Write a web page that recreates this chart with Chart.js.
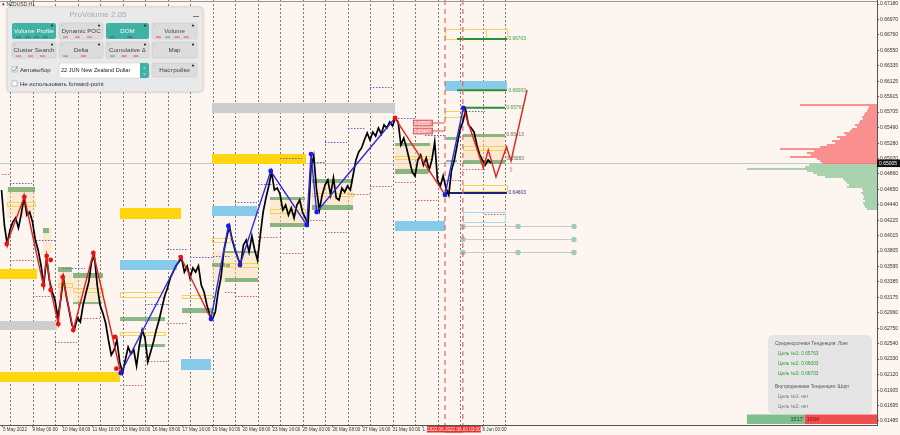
<!DOCTYPE html>
<html><head><meta charset="utf-8">
<script src="https://cdn.jsdelivr.net/npm/chart.js@4.4.1/dist/chart.umd.min.js"></script>
<style>html,body{margin:0;padding:0;background:#fdf5ef;overflow:hidden}canvas{display:block}</style>
</head><body>
<canvas id="c" width="900" height="435"></canvas>
<script>
// ---------------- DATA ----------------
const yTickValues = [0.67180,0.66970,0.66760,0.66550,0.66335,0.66125,0.65915,0.65705,0.65490,0.65280,0.65070,0.64860,0.64650,0.64440,0.64225,0.64015,0.63805,0.63595,0.63385,0.63175,0.62960,0.62750,0.62540,0.62330,0.62120,0.61905,0.61695,0.61485];
const xTickBars = [-7.5,24,56,88,120,152,184,216,248,280,312,344,376,408,440,472,504];
const xTickLabels = ['5 May 2022','9 May 00:00','10 May 08:00','11 May 16:00','13 May 00:00','16 May 08:00','17 May 16:00','19 May 00:00','20 May 08:00','23 May 16:00','25 May 00:00','26 May 08:00','27 May 16:00','31 May 00:00','1 Jun 08:00','2 Jun 16:00','6 Jun 00:00'];
const daySeparatorBars = [0,24,48,72,96,120,144,168,192,216,240,264,288,312,336,360,384,408,432,456,480,504,528];
const currentPrice = 0.65005;

// H1 closes, one value every 3 bars starting at bar -9
const priceStartBar = -9;
const priceStepBars = 3;
const closes = [0.64640,0.64162,0.63902,0.64093,0.64203,0.64257,0.64121,0.64311,0.64544,0.64298,
0.64339,0.64203,0.63957,0.63820,0.63616,0.63342,0.63711,0.63410,0.63247,0.63137,
0.62892,0.63137,0.63438,0.63192,0.63001,0.62796,0.62755,0.62892,0.62837,0.63069,
0.63233,0.63383,0.63657,0.63738,0.63342,0.63069,0.62960,0.62823,0.62591,0.62386,
0.62454,0.62591,0.62291,0.62140,0.62318,0.62495,0.62399,0.62454,0.62236,0.62523,
0.62727,0.62618,0.62291,0.62427,0.62564,0.62727,0.62864,0.63028,0.63192,0.63301,
0.63438,0.63520,0.63602,0.63657,0.63711,0.63520,0.63602,0.63438,0.63575,0.63520,
0.63602,0.63342,0.63247,0.63069,0.62933,0.62878,0.62974,0.63247,0.63438,0.63793,
0.63984,0.64148,0.63957,0.63820,0.63711,0.63616,0.63889,0.63957,0.63793,0.64011,
0.63820,0.63684,0.64025,0.64339,0.64531,0.64694,0.64886,0.64640,0.64667,0.64585,
0.64366,0.64435,0.64298,0.64394,0.64257,0.64435,0.64503,0.64339,0.64257,0.64175,
0.64940,0.65104,0.64640,0.64366,0.64572,0.64708,0.64776,0.64572,0.64804,0.64531,
0.64503,0.64667,0.64613,0.64694,0.64640,0.64845,0.65049,0.65159,0.65214,0.65323,
0.65418,0.65323,0.65432,0.65377,0.65487,0.65404,0.65528,0.65487,0.65569,0.65514,
0.65623,0.65569,0.65255,0.65350,0.65214,0.65049,0.64886,0.64831,0.65049,0.65118,
0.64981,0.65077,0.64913,0.65049,0.65296,0.64776,0.64694,0.64831,0.64667,0.64572,
0.64913,0.65049,0.65255,0.65459,0.65569,0.65732,0.65528,0.65487,0.65432,0.65255,
0.65118,0.65049,0.64981,0.65049,0.65008];

// zigzag legs [bar, price]
const zzRedA = [[-3.5,0.63902],[15.25,0.64544],[35.5,0.63342],[39.1,0.63738],[43.4,0.63274],[51.5,0.62809],[56.2,0.63451],[67.5,0.62727],[88.9,0.63779],[118.1,0.62140]];
const zzBlueA = [[118.1,0.62140],[182.1,0.63724]];
const zzRedB = [[182.1,0.63724],[214.4,0.62878]];
const zzBlueB = [[214.4,0.62878],[232.9,0.64148],[245.3,0.63616],[278.1,0.64899],[316.5,0.64162],[321.1,0.65131],[327.1,0.64339],[410.7,0.65623]];
const zzRedC = [[410.7,0.65623],[464,0.64572]];
const zzBlueC = [[464,0.64572],[483.5,0.65760]];
const zzForecast = [[483.5,0.65760],[504.9,0.64940],[510.2,0.65186],[518.4,0.64817],[529.6,0.65227],[534.4,0.65036],[551.5,0.66006]];
const redPivots = [[-3.5,0.63902],[15.25,0.64544],[35.5,0.63342],[39.1,0.63738],[43.4,0.63684],[43.4,0.63274],[51.5,0.62809],[56.2,0.63451],[67.5,0.62727],[88.9,0.63779],[112.0,0.62632],[113.5,0.62200],[182.1,0.63724],[410.7,0.65623]];
const bluePivots = [[118.1,0.62140],[214.4,0.62878],[232.9,0.64148],[245.3,0.63616],[278.1,0.64899],[316.5,0.64162],[321.1,0.65131],[327.1,0.64339],[464,0.64572],[483.5,0.65760]];

// zones [fromBar, toBar, topPrice, bottomPrice]
const goldZones = [[-11,28.8,0.63561,0.63424],[-11,117.3,0.62154,0.62017],[117.3,182.4,0.64394,0.64243],[215.5,315.7,0.65131,0.64995]];
const blueZones = [[117.3,178.1,0.63684,0.63547],[215.5,263.5,0.64421,0.64284],[182.4,214.4,0.62331,0.62181],[410.7,464,0.64216,0.64079],[464,530.1,0.66129,0.65992]];
const grayZones = [[-11,50.1,0.62850,0.62727],[215.5,410.7,0.65828,0.65691]];
const beigeZones = [[-3.2,26.7,0.64681,0.64257],[35.2,44.8,0.64121,0.63779],[51.2,66.1,0.63588,0.63178],[67.2,99.2,0.63506,0.63096],[215.5,264.5,0.63806,0.63383],[277.3,314.7,0.64544,0.64134],[322.1,365.9,0.64790,0.64366],[410.7,450.1,0.65282,0.64858],[483.2,528,0.65404,0.64995]];
const greenZones = [[-2.1,26.7,0.64681,0.64612],[35.2,41.6,0.64121,0.64052],[51.2,66.1,0.63588,0.63520],[67.2,99.2,0.63506,0.63438],[67.2,98,0.63110,0.63082],[117.3,165.3,0.62905,0.62850],[138.7,165.3,0.62536,0.62495],[183.5,215.5,0.63028,0.62959],[215.5,234.7,0.63643,0.63588],[229.3,264.5,0.63806,0.63779],[229.3,264.5,0.63438,0.63383],[277.3,314.7,0.64544,0.64503],[277.3,314.7,0.64189,0.64134],[322.1,365.9,0.64790,0.64735],[322.1,365.9,0.64435,0.64366],[410.7,448,0.65282,0.65241],[410.7,445.9,0.64927,0.64858],[465.1,476.8,0.65364,0.65323],[465.1,476.8,0.65049,0.65022],[483.2,528,0.65404,0.65364],[483.2,528,0.65049,0.64995]];
const yellowBoxes = [[464,507.7,0.66839,0.66702],[507.7,530.1,0.66839,0.66702],[464,482.1,0.65719,0.65637],[483.2,530.1,0.65241,0.65186],[483.2,530.1,0.64708,0.64626],[410.7,450.1,0.65104,0.65063],[-3.2,26.7,0.64476,0.64421],[117.3,165.3,0.63247,0.63178],[117.3,165.3,0.62700,0.62659],[51.2,66.1,0.63369,0.63315],[67.2,99.2,0.63301,0.63247],[183.5,215.5,0.63205,0.63164],[215.5,234.7,0.63984,0.63929],[229.3,264.5,0.63643,0.63588],[277.3,314.7,0.64380,0.64325],[322.1,365.9,0.64599,0.64558]];
const lightBlueBoxes = [[483.2,528,0.64339,0.64202]];

// dotted segments [fromBar, toBar, price]
const dotBlue = [[0,23.5,0.64735],[24.5,48,0.63957],[56.5,80,0.63574],[144,168.5,0.63082],[167.5,189.9,0.63834],[192,216.5,0.63724],[216.5,234.7,0.63738],[240,263.5,0.64476],[264.5,285.9,0.64722],[288,311.5,0.65077],[321.1,336,0.65022],[336,359.5,0.65295],[360.5,378.7,0.65487],[384,407.5,0.66047],[410.7,432,0.65623],[442.7,464,0.65391],[483.2,506.7,0.65719]];
const dotRed = [[-8.5,0,0.64858],[0,23.5,0.63684],[24.5,48,0.63192],[48,71.5,0.62563],[72.5,96,0.62891],[117.3,141.9,0.61976],[144,167.5,0.62304],[167.5,189.9,0.62823],[229.3,240,0.63247],[240,263.5,0.63192],[264.5,285.9,0.63998],[288,311.5,0.63779],[316.8,336,0.64230],[336,359.5,0.64066],[360.5,384,0.64585],[384,407.5,0.64694],[410.7,432,0.64749],[432,455.5,0.64503],[465.1,480,0.64776],[483.2,506.7,0.64927],[506.7,528,0.64312]];

// target / level lines [fromBar, toBar, price, label, kind]
const levels = [[476.8,530.1,0.66703,'0.66703','target'],[476.8,530.1,0.66003,'0.66003','target'],[483.2,528,0.65763,'0.65763','target'],[483.2,528,0.65413,'0.65413','zone'],[483.2,528,0.65083,'0.65083','zone'],[464,530.1,0.64599,'0.64603','stop']];
const priceTags = [[0.65555,'0.65557'],[0.65446,'0.65447']];
const priceTagBar = 464;
const circleRowPrices = [0.64148,0.63970,0.63793];
const circleCols = [483.2,541.9,601.6];
const circleMask = [[1,1,1],[1,0,1],[1,1,1]];
const timeMarks = [[464,'2022.06.02 08:00'],[483,'2022.06.03 03:00']];

// volume profile: bins from top price downward
const vpTopPrice = 0.65814, vpBinSize = 0.000273;
const vpVolumes = [77,8,9,10,12,13,15,14,17,18,22,20,25,27,33,31,40,37,45,42,50,57,97,63,70,66,87,60,57,55,68,72,130,70,64,60,52,34,32,30,28,30,15,14,16,14,13,14,12,14,13,12,10];
const deltaBuy = 1517, deltaSell = 1894;

const infoLines = [['Среднесрочная Тенденция: Лонг','head'],['Цель №1: 0.65763','up'],['Цель №2: 0.66003','up'],['Цель №3: 0.66703','up'],['Внутридневная Тенденция: Шорт','head'],['Цель №1: нет','none'],['Цель №2: нет','none']];

// ---------------- RENDER ----------------
const CREAM = '#fdf5ef';
const FONT = "'Liberation Sans', Arial, sans-serif";
const toPts = arr => arr.map(([x,y]) => ({x, y}));
const pricePts = closes.map((p,i) => ({x: priceStartBar + i*priceStepBars, y: p}));

const bgPlugin = { id:'bg', beforeDraw(c){ const g=c.ctx; g.save(); g.fillStyle=CREAM; g.fillRect(0,0,c.width,c.height); g.restore(); } };

const scenePlugin = {
  id:'scene',
  beforeDatasetsDraw(c){
    const g=c.ctx, a=c.chartArea, x=c.scales.x, y=c.scales.y, xv=c.scales.xv;
    g.save();
    g.beginPath(); g.rect(a.left,a.top,a.right-a.left,a.bottom-a.top); g.clip();
    g.strokeStyle='#777'; g.lineWidth=1; g.setLineDash([2,2]);
    daySeparatorBars.forEach(b=>{const px=Math.round(x.getPixelForValue(b))+0.5; g.beginPath(); g.moveTo(px,a.top); g.lineTo(px,a.bottom); g.stroke();});
    g.setLineDash([]);
    const cy=Math.round(y.getPixelForValue(currentPrice))+0.5;
    g.strokeStyle='#c6c6c6'; g.beginPath(); g.moveTo(a.left,cy); g.lineTo(a.right,cy); g.stroke();
    const R=z=>[x.getPixelForValue(z[0]),y.getPixelForValue(z[2]),x.getPixelForValue(z[1]),y.getPixelForValue(z[3])];
    const fillZ=(list,col)=>{g.fillStyle=col; list.forEach(z=>{const [x0,y0,x1,y1]=R(z); g.fillRect(x0,y0,x1-x0,y1-y0);});};
    const strokeZ=(list,col)=>{g.strokeStyle=col; g.lineWidth=1; list.forEach(z=>{const [x0,y0,x1,y1]=R(z); g.strokeRect(Math.round(x0)+.5,Math.round(y0)+.5,Math.round(x1-x0),Math.round(y1-y0));});};
    fillZ(beigeZones,'rgba(250,220,175,0.45)');
    fillZ(grayZones,'#cdcdcd');
    fillZ(goldZones,'#ffd50f');
    fillZ(blueZones,'#86cbe9');
    fillZ(greenZones,'rgba(95,160,95,0.72)');
    strokeZ(yellowBoxes,'#f0d35e');
    strokeZ(lightBlueBoxes,'#a8d6ec');
    g.lineWidth=1; g.setLineDash([1.5,1.5]);
    const seg=(list,col)=>{g.strokeStyle=col; list.forEach(s=>{const py=Math.round(y.getPixelForValue(s[2]))+.5; g.beginPath(); g.moveTo(x.getPixelForValue(s[0]),py); g.lineTo(x.getPixelForValue(s[1]),py); g.stroke();});};
    seg(dotBlue,'#6464d2'); seg(dotRed,'#d26464');
    g.setLineDash([]);
    levels.forEach(l=>{ if(l[4]==='zone') return; const py=y.getPixelForValue(l[2]); g.strokeStyle=l[4]==='stop'?'#1e1e78':'#2f8f2f'; g.lineWidth=2; g.beginPath(); g.moveTo(x.getPixelForValue(l[0]),py); g.lineTo(x.getPixelForValue(l[1]),py); g.stroke();});
    vpVolumes.forEach((v,i)=>{const top=vpTopPrice-i*vpBinSize, bot=top-vpBinSize, mid=(top+bot)/2;
      g.fillStyle = mid>currentPrice ? 'rgba(247,105,105,0.72)' : 'rgba(125,190,140,0.65)';
      const x0=xv.getPixelForValue(v), x1=xv.getPixelForValue(0), y0=y.getPixelForValue(top), y1=y.getPixelForValue(bot);
      g.fillRect(x0,y0,x1-x0,y1-y0);});
    circleRowPrices.forEach((p,r)=>{const py=Math.round(y.getPixelForValue(p))+.5; g.strokeStyle='#cacaca'; g.lineWidth=1; g.beginPath(); g.moveTo(x.getPixelForValue(circleCols[0]),py); g.lineTo(x.getPixelForValue(circleCols[2]),py); g.stroke();
      circleCols.forEach((b,k)=>{ if(!circleMask[r][k]) return; g.fillStyle='#a2c8c0'; g.beginPath(); g.arc(x.getPixelForValue(b),py,2.7,0,Math.PI*2); g.fill();});});
    g.strokeStyle='rgba(232,105,105,0.85)'; g.lineWidth=1.5; g.setLineDash([5,4]);
    timeMarks.forEach(t=>{const px=x.getPixelForValue(t[0]); g.beginPath(); g.moveTo(px,a.top); g.lineTo(px,a.bottom); g.stroke();});
    g.setLineDash([]);
    g.restore();
  },
  afterDatasetsDraw(c){
    const g=c.ctx, x=c.scales.x, y=c.scales.y;
    g.save();
    g.font='4.8px '+FONT; g.textBaseline='middle'; g.textAlign='left';
    levels.forEach(l=>{ g.fillStyle = l[4]==='target' ? '#3a9a3a' : (l[4]==='stop' ? '#2a2a80' : '#666'); g.fillText(l[3], x.getPixelForValue(l[1])+1.5, y.getPixelForValue(l[2])+ (l[4]==='zone'?1:0)); });
    priceTags.forEach(t=>{const py=y.getPixelForValue(t[0]); const xr=x.getPixelForValue(priceTagBar);
      g.strokeStyle='#e05555'; g.lineWidth=1; g.beginPath(); g.moveTo(xr-12,py); g.lineTo(xr,py); g.stroke();
      g.fillStyle='#f19a9a'; g.fillRect(xr-32,py-3.2,20,6.4); g.strokeStyle='#e06060'; g.strokeRect(xr-32+.5,py-3.2+.5,19,5.6);
      g.fillStyle='#fff'; g.font='4.6px '+FONT; g.fillText(t[1],xr-31,py+0.3);});
    g.fillStyle='#e87070'; g.font='7px '+FONT; g.textAlign='center';
    g.fillText('⇧', x.getPixelForValue(534.4), y.getPixelForValue(0.64960)+4);
    g.restore();
  },
  afterDraw(c){
    const g=c.ctx, a=c.chartArea, x=c.scales.x, y=c.scales.y, xd=c.scales.xd;
    g.save();
    g.strokeStyle='#9a9a9a'; g.lineWidth=1; g.beginPath(); g.moveTo(0,1.5); g.lineTo(a.right,1.5); g.stroke();
    const cy=y.getPixelForValue(currentPrice);
    g.fillStyle='#111'; g.fillRect(a.right,cy-3.8,23,7.6);
    g.fillStyle='#fff'; g.font='5px '+FONT; g.textBaseline='middle'; g.textAlign='left'; g.fillText(currentPrice.toFixed(5),a.right+2,cy+0.3);
    g.font='4.6px '+FONT;
    timeMarks.forEach(t=>{const px=x.getPixelForValue(t[0]); g.fillStyle='#e8302c'; g.fillRect(px-18,a.bottom+1,36,6.5); g.fillStyle='#fff'; g.textAlign='center'; g.fillText(t[1],px,a.bottom+4.5);});
    g.fillStyle='#333'; g.textAlign='left'; g.font='5px '+FONT; g.fillText('▾ NZDUSD,H1',2,4.5);
    const x0=xd.getPixelForValue(0), x1=xd.getPixelForValue(deltaSell), x2=xd.getPixelForValue(deltaSell+deltaBuy);
    const by0=a.bottom-10.5, bh=9.5;
    g.fillStyle='#7fbf8e'; g.fillRect(x2,by0,x1-x2,bh);
    g.fillStyle='#f04f4f'; g.fillRect(x1,by0,x0-x1,bh);
    g.font='5.5px '+FONT; g.textAlign='right'; g.fillStyle='#1d3b22'; g.fillText(String(deltaBuy),x1-2,by0+bh/2);
    g.textAlign='left'; g.fillStyle='#8a0d0d'; g.fillText(String(deltaSell),x1+2,by0+bh/2);
    g.fillStyle='rgba(228,228,228,0.95)'; g.beginPath(); g.roundRect(768,335,104,79,5); g.fill();
    g.font='4.8px '+FONT; g.textAlign='left';
    let ly=344;
    infoLines.forEach((l,i)=>{ if(i===4) ly+=3;
      g.fillStyle = l[1]==='up' ? '#2f9a2f' : (l[1]==='head' ? '#555' : '#777');
      g.fillText(l[0], l[1]==='head'?775:778, ly); ly+=10; });
    drawPanel(g);
    g.restore();
  }
};

function btn(g,x,y,w,h,label,active,marks){
  g.fillStyle = active ? '#3fb1a5' : '#dcdcdc';
  g.beginPath(); g.roundRect(x,y,w,h,2); g.fill();
  if(!active){ g.strokeStyle='#c9c9c9'; g.lineWidth=0.6; g.stroke(); }
  g.fillStyle= active ? 'rgba(255,255,255,0.6)' : '#999'; g.font='3px '+FONT; g.textAlign='left'; g.fillText('≡', x+2, y+2.5);
  g.fillStyle= '#333'; g.beginPath(); g.arc(x+w-4,y+2.6,1.1,0,Math.PI*2); g.fill();
  g.fillStyle= active ? '#fff' : '#444'; g.font='6.2px '+FONT; g.textAlign='center'; g.textBaseline='middle';
  g.fillText(label, x+w/2, y+h/2+0.5);
  (marks||[]).forEach((m,i)=>{ g.fillStyle=m; g.fillRect(x+4+i*(w-8)/Math.max(1,marks.length), y+h-2.5, 5, 1.1); });
}
function drawPanel(g){
  g.save();
  g.shadowColor='rgba(0,0,0,0.18)'; g.shadowBlur=3;
  g.fillStyle='#e9e9e9'; g.beginPath(); g.roundRect(7,7,196,85,4); g.fill();
  g.shadowBlur=0; g.strokeStyle='#d2d2d2'; g.lineWidth=0.8; g.stroke();
  g.textBaseline='middle';
  g.fillStyle='#aaaaaa'; g.font='8px '+FONT; g.textAlign='center'; g.fillText('ProVolume 2.05',98,14.5);
  g.fillStyle='#777'; g.fillRect(193,16,6,1);
  btn(g,12,23,44,16,'Volume Profile',true,['#2a7a70','#2a7a70','#2a7a70','#2a7a70']);
  btn(g,59,23,44,16,'Dynamic POC',false,['#d66','#d66','#d66']);
  btn(g,106,23,43,16,'DOM',true,['#2a7a70','#555']);
  btn(g,152,23,45,16,'Volume',false,['#d55','#5a5','#d55','#d55']);
  btn(g,12,42,44,16,'Cluster Search',false,['#d66','#d66','#d66']);
  btn(g,59,42,44,16,'Delta',false,['#5a5','#d55']);
  btn(g,106,42,43,16,'Cumulative Δ',false,['#5a5','#d55','#d55']);
  btn(g,152,42,45,16,'Map',false,[]);
  g.fillStyle='#fff'; g.fillRect(12,67,5,5); g.strokeStyle='#9a9a9a'; g.lineWidth=0.6; g.strokeRect(12,67,5,5);
  g.strokeStyle='#3fb1a5'; g.lineWidth=1; g.beginPath(); g.moveTo(12.8,69.5); g.lineTo(14.3,71.2); g.lineTo(17.5,66.3); g.stroke();
  g.fillStyle='#333'; g.font='6px '+FONT; g.textAlign='left'; g.fillText('Автовыбор',20,70);
  g.fillStyle='#fff'; g.beginPath(); g.roundRect(59,63,90,15,2); g.fill(); g.strokeStyle='#cfcfcf'; g.lineWidth=0.6; g.stroke();
  g.fillStyle='#3fb1a5'; g.beginPath(); g.roundRect(140,63,9,15,[0,2,2,0]); g.fill();
  g.fillStyle='#fff'; g.font='4px '+FONT; g.textAlign='center'; g.fillText('˄',144.5,68); g.fillText('˅',144.5,73.5);
  g.fillStyle='#222'; g.font='5.6px '+FONT; g.textAlign='left'; g.fillText('22 JUN New Zealand Dollar',61,70.8);
  btn(g,152,63,45,14,'Настройки',false,[]);
  g.fillStyle='#fff'; g.fillRect(12,81,5,5); g.strokeStyle='#9a9a9a'; g.lineWidth=0.6; g.strokeRect(12,81,5,5);
  g.fillStyle='#333'; g.font='6px '+FONT; g.textAlign='left'; g.fillText('Не использовать forward-point',20,84);
  g.restore();
}

const lineDs = (pts,col,w) => ({type:'line', data:toPts(pts), borderColor:col, borderWidth:w, pointRadius:0, tension:0, fill:false});
const dotDs = (pts,col) => ({type:'line', data:toPts(pts), showLine:false, pointRadius:2.4, pointBackgroundColor:col, pointBorderWidth:0, borderColor:col});

new Chart(document.getElementById('c'), {
  type:'line',
  data:{ datasets:[
    dotDs(redPivots,'#ee1111'),
    dotDs(bluePivots,'#1a1aee'),
    lineDs(zzRedA,'#e02222',1.4), lineDs(zzBlueA,'#2a2ae0',1.4), lineDs(zzRedB,'#e02222',1.4),
    lineDs(zzBlueB,'#2a2ae0',1.4), lineDs(zzRedC,'#e02222',1.4), lineDs(zzBlueC,'#2a2ae0',1.4),
    lineDs(zzForecast,'#e02222',1.4),
    {type:'line', data:pricePts, borderColor:'#000', borderWidth:1.7, pointRadius:0, tension:0, fill:false}
  ]},
  options:{
    responsive:false, animation:false, events:[],
    layout:{padding:0, autoPadding:false},
    plugins:{legend:{display:false}, tooltip:{enabled:false}},
    scales:{
      x:{type:'linear', position:'bottom', min:-10.667, max:924.8,
        grid:{display:true, drawOnChartArea:false, drawTicks:true, tickLength:2, color:'#555'},
        border:{display:true, color:'#555', width:1},
        ticks:{align:'start', autoSkip:false, maxRotation:0, minRotation:0, padding:0, color:'#333', font:{family:FONT, size:4.6}, callback:(v,i)=>xTickLabels[i]},
        afterBuildTicks:s=>{ s.ticks = xTickBars.map(v=>({value:v})); },
        afterFit:s=>{ s.height=10; s.paddingLeft=0; s.paddingRight=0; }
      },
      y:{type:'linear', position:'right', min:0.61430, max:0.67235,
        grid:{display:true, drawOnChartArea:false, drawTicks:true, tickLength:2, color:'#555'},
        border:{display:true, color:'#555', width:1},
        ticks:{padding:1, color:'#333', font:{family:FONT, size:5}, callback:(v,i)=>yTickValues[i].toFixed(5)},
        afterBuildTicks:s=>{ s.ticks = yTickValues.map(v=>({value:v})); },
        afterFit:s=>{ s.width=23; s.paddingTop=0; s.paddingBottom=0; }
      },
      xv:{type:'linear', display:false, reverse:true, min:0, max:877},
      xd:{type:'linear', display:false, reverse:true, min:0, max:23000}
    }
  },
  plugins:[bgPlugin, scenePlugin]
});
</script>
</body></html>
